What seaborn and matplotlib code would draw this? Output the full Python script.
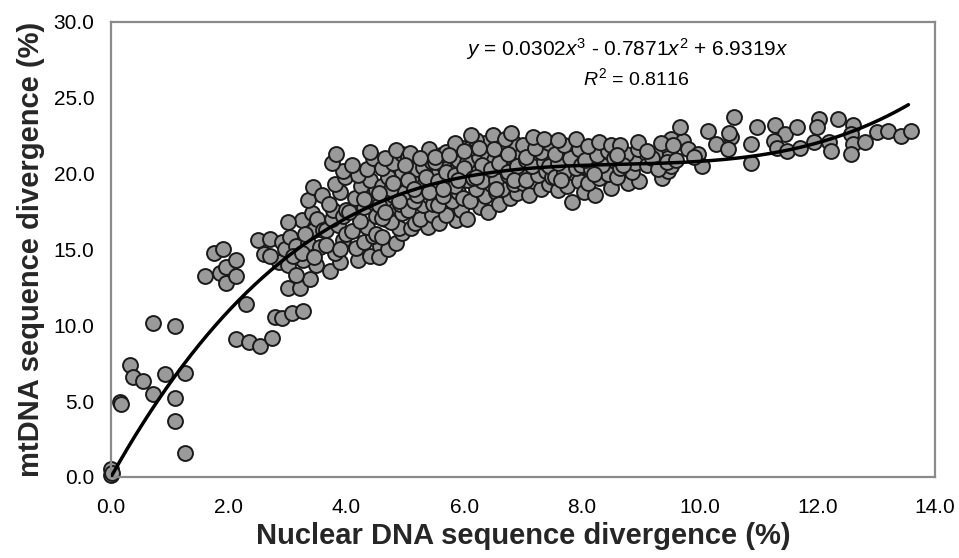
import numpy as np
import pandas as pd
import matplotlib
matplotlib.use("Agg")
import matplotlib.pyplot as plt
import seaborn as sns

# points, grouped by nuclear divergence range
# (x = nuclear DNA divergence %, y = mtDNA divergence %)
low_x = [0.0, 0.0, 0.02, 0.15, 0.17, 0.32, 0.37, 0.55, 0.71, 0.71, 1.09, 0.92, 1.26, 1.09, 1.09, 1.26,
         1.60, 1.85, 1.96, 1.96, 2.13, 2.13, 1.75, 1.90, 2.30, 2.13, 2.35, 2.54, 2.73,
         2.78, 2.90, 3.07, 3.27, 2.50, 2.70, 2.60, 2.90, 2.85, 2.95, 3.05, 3.15, 2.70, 3.00]
low_y = [0.1, 0.5, 0.25, 4.96, 4.8, 7.38, 6.6, 6.33, 5.47, 10.13, 9.95, 6.79, 6.88, 5.19, 3.71, 1.56,
         13.25, 13.43, 13.86, 12.77, 13.25, 14.3, 14.8, 15.0, 11.4, 9.08, 8.92, 8.64, 9.14,
         10.57, 10.46, 10.83, 10.96, 15.6, 15.7, 14.7, 15.5, 14.2, 15.0, 15.8, 15.2, 14.6, 14.0]

mid_x = [3.01, 3.21, 3.38, 3.15, 3.49, 3.27, 3.10, 3.35, 3.55, 3.25, 3.45, 3.45, 3.24, 3.41, 3.35,
         3.43, 3.58, 3.50, 3.30, 3.60, 3.00,
         3.72, 3.90, 3.80, 3.65, 3.95, 3.66, 3.85, 3.75, 3.77, 3.95, 3.70, 3.89, 3.80, 3.98, 3.95,
         3.75, 3.82, 4.00, 4.00, 3.90,
         4.20, 4.40, 4.17, 4.57, 4.30, 4.45, 4.10, 4.35, 4.23, 4.50, 4.05, 4.30, 4.45, 4.15, 4.51,
         4.25, 4.40, 4.20, 4.35, 4.10, 4.45, 4.40, 4.50, 4.60, 4.65,
         4.55, 4.70, 4.85, 4.60, 4.95, 4.90, 4.75, 4.60, 4.95, 4.71, 4.91, 4.65, 4.80, 4.95, 4.60,
         4.85, 4.70, 4.95, 4.60, 4.80, 4.65, 4.95, 4.85, 4.75, 4.55]
mid_y = [12.44, 12.44, 13.03, 13.32, 13.97, 14.3, 14.6, 15.41, 15.19, 14.74, 14.53, 16.28, 16.94, 17.39, 18.27,
         19.14, 18.59, 17.0, 16.0, 16.3, 16.8,
         13.6, 14.2, 14.8, 15.3, 15.6, 16.3, 16.6, 17.0, 17.6, 17.2, 18.0, 18.8, 19.3, 19.8, 20.2,
         20.7, 21.3, 17.6, 16.0, 15.0,
         14.3, 14.6, 15.1, 15.2, 15.5, 15.9, 16.2, 16.5, 16.9, 17.2, 17.5, 17.8, 18.1, 18.4, 18.9,
         19.2, 19.6, 19.9, 20.3, 20.6, 21.0, 21.45, 16.0, 18.6, 17.0,
         14.5, 15.0, 15.4, 15.8, 16.1, 16.4, 16.8, 17.1, 17.4, 17.7, 18.0, 18.3, 18.6, 18.9, 19.2,
         19.5, 19.8, 20.1, 20.4, 20.7, 21.0, 21.3, 21.56, 19.0, 17.9]

core_x = [5.10, 5.16, 5.38, 5.25, 5.45, 5.05, 5.30, 5.15, 5.40, 5.00, 5.25, 5.50, 5.10, 5.35, 5.20,
          5.30, 5.45, 5.05, 5.08, 5.40, 5.45, 5.48, 5.00,
          5.58, 5.87, 5.70, 5.95, 5.55, 5.80, 5.65, 5.90, 5.60, 5.75, 5.95, 5.55, 5.85, 5.65, 5.90,
          5.60, 5.70, 5.98, 5.85, 5.85, 5.98, 5.50,
          6.05, 6.27, 6.40, 6.10, 6.35, 6.55, 6.20, 6.45, 6.05, 6.30, 6.15, 6.40, 6.05, 6.25, 6.45,
          6.10, 6.35, 6.20, 6.12, 6.49, 6.48, 6.30, 6.40,
          6.60, 6.78, 6.90, 6.65, 6.85, 6.55, 6.75, 6.95, 6.60, 6.80, 6.70, 6.95, 6.60, 6.85, 6.70,
          6.80, 7.00, 6.50]
core_y = [16.4, 16.72, 16.5, 17.0, 17.3, 17.6, 17.9, 18.2, 18.5, 18.8, 19.1, 19.4, 19.7, 20.0, 20.3,
          20.46, 20.8, 21.1, 21.34, 21.6, 19.0, 18.0, 20.6,
          16.72, 16.94, 17.3, 17.6, 17.9, 18.2, 18.5, 18.8, 19.1, 19.4, 19.7, 20.0, 20.3, 20.6, 20.9,
          21.2, 21.45, 21.67, 22.0, 19.2, 18.4, 20.8,
          17.0, 17.82, 17.5, 18.2, 18.5, 18.81, 19.0, 19.3, 19.6, 19.9, 20.2, 20.5, 20.8, 21.1, 21.4,
          21.7, 22.0, 22.2, 22.55, 22.55, 20.0, 19.5, 21.0,
          18.0, 18.37, 18.7, 19.0, 19.3, 19.6, 19.9, 20.2, 20.5, 20.8, 21.1, 21.4, 21.7, 22.0, 22.3,
          22.66, 19.4, 20.9]

# extra overlapping points in the densest band
fill_x = [4.30, 4.55, 4.80, 5.05, 5.20, 5.35, 5.55, 5.70, 5.85, 6.00, 6.15, 6.30, 6.45, 6.60,
          6.75, 6.90, 7.05, 7.20, 7.35, 7.50, 7.65, 7.80, 7.95, 8.10, 8.25, 8.40, 8.55, 8.70,
          5.25, 5.50, 5.75, 6.00, 6.25, 6.50, 6.75, 7.00, 7.25, 7.50, 7.75, 8.00, 8.35,
          4.65, 4.90, 5.15, 5.40, 5.65, 5.90, 6.20, 6.55, 6.85, 7.15, 7.45, 7.70]
fill_y = [18.3, 18.7, 19.4, 19.6, 18.6, 19.8, 19.5, 20.1, 19.9, 20.4, 19.7, 20.6, 20.3, 20.7,
          20.1, 20.5, 20.9, 20.3, 20.0, 20.7, 20.4, 19.9, 20.9, 20.4, 21.0, 20.6, 20.4, 21.1,
          21.0, 21.1, 21.2, 21.5, 21.7, 21.6, 21.3, 21.9, 21.2, 21.5, 21.4, 21.7, 21.2,
          17.5, 18.2, 19.0, 18.8, 19.0, 19.6, 19.8, 19.0, 19.6, 19.4, 19.6, 19.3]

upper_x = [7.10, 7.30, 7.45, 7.05, 7.25, 7.40, 7.15, 7.35, 7.05, 7.30, 7.20, 7.45, 7.17, 7.35, 7.50, 7.45,
           7.83, 7.60, 7.75, 7.95, 7.55, 7.70, 7.90, 7.60, 7.80, 7.55, 7.95, 7.70, 7.60, 7.90, 7.65, 7.98,
           8.03, 8.23, 8.49, 8.10, 8.30, 8.45, 8.15, 8.35, 8.05, 8.25, 8.45, 8.10, 8.30, 8.50, 8.20,
           8.78, 8.98, 8.60, 8.85, 8.65, 8.90, 8.55, 8.75, 8.95, 8.65, 8.96, 8.70, 8.60,
           9.36, 9.47, 9.52, 9.47, 9.24, 9.10, 9.20, 9.30, 9.10, 9.52, 9.35, 9.45,
           9.72, 9.67, 9.81, 9.98, 10.04, 9.60, 9.55, 9.90]
upper_y = [18.6, 19.0, 19.3, 19.6, 19.9, 20.2, 20.5, 20.8, 21.1, 21.4, 21.7, 22.0, 22.44, 22.3, 19.8, 20.5,
           18.15, 18.9, 19.2, 19.5, 19.8, 20.1, 20.4, 20.7, 21.0, 21.3, 21.6, 21.9, 22.2, 22.3, 19.6, 20.6,
           18.8, 18.6, 19.04, 19.4, 19.7, 20.0, 20.3, 20.6, 20.9, 21.2, 21.5, 21.8, 22.1, 21.9, 20.0,
           19.4, 19.5, 19.8, 20.1, 20.4, 20.7, 21.0, 21.3, 21.6, 21.9, 22.06, 20.6, 21.2,
           19.72, 20.16, 20.49, 21.05, 21.27, 20.6, 21.0, 20.3, 21.5, 22.28, 22.0, 20.8,
           22.17, 23.07, 21.61, 21.27, 20.49, 20.9, 21.9, 21.1]

tail_x = [10.14, 10.28, 10.54, 10.48, 10.59, 10.88, 10.97, 10.88, 10.50,
          11.29, 11.46, 11.66, 11.26, 11.31, 11.48, 11.71, 11.94, 12.03, 12.00,
          12.35, 12.61, 12.58, 12.20, 12.23, 12.61, 12.58, 12.81, 13.01, 13.21, 13.42, 13.60]
tail_y = [22.84, 21.95, 22.39, 21.61, 23.73, 21.95, 23.07, 20.72, 22.7,
          23.18, 22.61, 23.07, 22.17, 21.72, 21.5, 21.72, 22.06, 23.62, 23.07,
          23.62, 23.18, 22.61, 22.06, 21.5, 21.95, 21.27, 22.06, 22.73, 22.84, 22.5, 22.84]

# trendline coefficients as printed on the chart (x^3, x^2, x)
coef = [0.0302, -0.7871, 6.9319, 0.0]
r2 = 0.8116

xticks = [0, 2, 4, 6, 8, 10, 12, 14]
yticks = [0, 5, 10, 15, 20, 25, 30]

#%%
df = pd.DataFrame({
    "nuc": low_x + mid_x + core_x + fill_x + upper_x + tail_x,
    "mt": low_y + mid_y + core_y + fill_y + upper_y + tail_y,
})

sns.set_theme(style="white")
plt.rcParams["font.family"] = ["Liberation Sans", "DejaVu Sans"]
plt.rcParams["mathtext.fontset"] = "custom"
plt.rcParams["mathtext.rm"] = "Liberation Sans"
plt.rcParams["mathtext.it"] = "Liberation Sans:italic"

fig = plt.figure(figsize=(9.59, 5.58), dpi=100)
ax = fig.add_axes([0.1157, 0.1452, 0.8592, 0.8154])

sns.scatterplot(data=df, x="nuc", y="mt", ax=ax, s=115, color="#9a9a9a",
                edgecolor="#1a1a1a", linewidth=1.4, zorder=2, legend=False, clip_on=False)

# fitted cubic through the origin
xs = np.linspace(0, df["nuc"].max() - 0.05, 300)
ax.plot(xs, np.polyval(coef, xs), color="black", lw=2.5, zorder=3)

ax.set_xlim(0, 14)
ax.set_ylim(0, 30)
ax.set_xticks(xticks)
ax.set_yticks(yticks)
ax.set_xticklabels(["%.1f" % t for t in xticks], fontsize=15)
ax.set_yticklabels(["%.1f" % t for t in yticks], fontsize=15)
ax.tick_params(axis="x", direction="out", length=3, width=1, color="#cccccc",
               pad=12, labelcolor="black")
ax.tick_params(axis="y", direction="out", length=3, width=1, color="#cccccc",
               pad=9, labelcolor="black")
for sp in ax.spines.values():
    sp.set_color("#8a8a8a")
    sp.set_linewidth(1.6)

ax.set_xlabel("Nuclear DNA sequence divergence (%)", fontsize=21, fontweight="bold",
              labelpad=4)
ax.set_ylabel("mtDNA sequence divergence (%)", fontsize=21, fontweight="bold",
              labelpad=6)

eq = r"$y$ = %.4f$x^3$ - %.4f$x^2$ + %.4f$x$" % (coef[0], -coef[1], coef[2])
ax.text(0.627, 0.94, eq, transform=ax.transAxes, ha="center", va="center",
        fontsize=15, color="black")
ax.text(0.637, 0.877, r"$R^2$ = %.4f" % r2, transform=ax.transAxes, ha="center",
        va="center", fontsize=14, color="black")

fig.savefig("out.png", dpi=100)
